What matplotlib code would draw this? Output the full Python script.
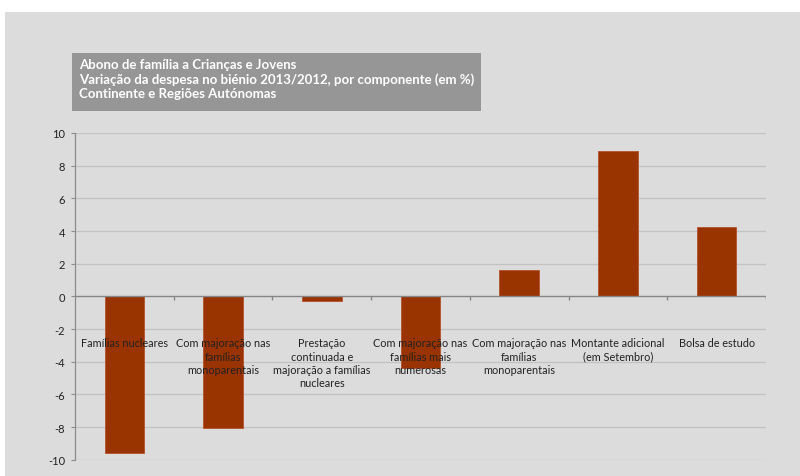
import matplotlib
matplotlib.use("Agg")
import matplotlib.pyplot as plt
from matplotlib.patches import Rectangle
import numpy as np

plt.rcParams['font.family'] = ['Lato', 'DejaVu Sans']

categories = [
    "Famílias nucleares",
    "Com majoração nas\nfamílias\nmonoparentais",
    "Prestação\ncontinuada e\nmajoração a famílias\nnucleares",
    "Com majoração nas\nfamílias mais\nnumerosas",
    "Com majoração nas\nfamílias\nmonoparentais",
    "Montante adicional\n(em Setembro)",
    "Bolsa de estudo",
]
values = [-9.6, -8.05, -0.29, -4.37, 1.6, 8.9, 4.25]
yticks = [-10, -8, -6, -4, -2, 0, 2, 4, 6, 8, 10]
title_lines = [
    "Abono de família a Crianças e Jovens",
    "Variação da despesa no biénio 2013/2012, por componente (em %)",
    "Continente e Regiões Autónomas",
]

W, H = 800, 477
fig = plt.figure(figsize=(W / 100, H / 100), dpi=100)
fig.patch.set_facecolor("white")

# gray chart area background
fig.patches.append(Rectangle((5 / W, 0), 1 - 5 / W, 1 - 13 / H,
                             transform=fig.transFigure, facecolor="#dcdcdc",
                             edgecolor="none", zorder=-2))

ax = fig.add_axes([75 / W, (H - 460.7) / H, 691 / W, (460.7 - 134) / H])
ax.set_facecolor("none")
ax.set_zorder(1)

x = np.arange(len(categories))
ax.bar(x, values, width=0.4, color="#993300", edgecolor="#b5502a",
       linewidth=0.6, zorder=3)

ax.set_xlim(-0.5, len(categories) - 0.5)
ax.set_ylim(yticks[0], yticks[-1])
ax.set_yticks(yticks)
ax.set_yticklabels([str(t) for t in yticks], fontsize=8, color="#222222")
ax.tick_params(axis="y", length=3, width=0.8, color="#8c8c8c", pad=4)
ax.set_xticks([])

for s in ["top", "right", "bottom"]:
    ax.spines[s].set_visible(False)
ax.spines["left"].set_color("#8c8c8c")
ax.spines["left"].set_linewidth(0.9)

for t in yticks:
    if t != 0:
        ax.axhline(t, color="#c2c2c2", linewidth=0.9, zorder=1)
ax.axhline(0, color="#868686", linewidth=1.0, zorder=4)

# small tick marks at category boundaries on the zero line
bounds = np.arange(len(categories) + 1) - 0.5
ax.vlines(bounds[1:], -0.2, 0, color="#868686", linewidth=1.0, zorder=4)

for xi, lab in zip(x, categories):
    ax.annotate(lab, xy=(xi, 0), xytext=(0, -29.5), textcoords="offset points",
                ha="center", va="top", fontsize=7.8, color="#222222",
                linespacing=1.25, zorder=5)

# title box
fig.patches.append(Rectangle((72 / W, (H - 112) / H), (481 - 72) / W, 58 / H,
                             transform=fig.transFigure, facecolor="#969696",
                             edgecolor="none", zorder=2))
fig.text(79 / W, (H - 59) / H, "\n".join(title_lines), ha="left", va="top",
         fontsize=9.5, fontweight="bold", color="white", linespacing=1.2,
         zorder=6)

fig.savefig("out.png", dpi=100)
